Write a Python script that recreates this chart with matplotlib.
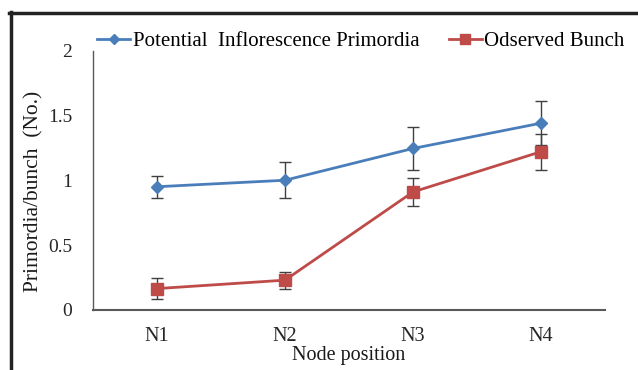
import matplotlib
matplotlib.use("Agg")
import matplotlib.pyplot as plt
from matplotlib.lines import Line2D

categories = ["N1", "N2", "N3", "N4"]
potential = [0.95, 1.00, 1.245, 1.44]
potential_err = [0.085, 0.14, 0.165, 0.17]
observed = [0.165, 0.23, 0.91, 1.22]
observed_err = [0.08, 0.065, 0.105, 0.14]
yticks = [0, 0.5, 1, 1.5, 2]
ytick_labels = ["0", "0.5", "1", "1.5", "2"]
series_names = ["Potential  Inflorescence Primordia", "Odserved Bunch"]

plt.rcParams['font.family'] = ['Liberation Serif', 'DejaVu Serif']

W, H = 638, 370
fig = plt.figure(figsize=(W / 100, H / 100), dpi=100)
ax = fig.add_axes([93 / W, 1 - 310 / H, (605 - 93) / W, (310 - 50.5) / H])

x = list(range(len(categories)))
blue = "#4A7EBB"
red = "#BE4B48"
errc = "#404040"

ax.errorbar(x, potential, yerr=potential_err, color=blue, lw=2, marker="D",
            markersize=6.5, markerfacecolor=blue, markeredgecolor=blue,
            ecolor=errc, elinewidth=1, capsize=4.5, capthick=1, zorder=3)
ax.errorbar(x, observed, yerr=observed_err, color=red, lw=2, marker="s",
            markersize=8, markerfacecolor=red, markeredgecolor=red,
            ecolor=errc, elinewidth=1, capsize=4.5, capthick=1, zorder=3)

ax.set_xlim(-0.5, len(categories) - 0.5)
ax.set_ylim(0, 2)
ax.set_xticks(x)
ax.set_xticklabels(categories, fontsize=14.5)
ax.set_yticks(yticks)
ax.set_yticklabels(ytick_labels, fontsize=14)
ax.tick_params(axis="both", length=0, colors="#262626")
ax.tick_params(axis="x", pad=12)
ax.tick_params(axis="y", pad=15)
for s in ["top", "right"]:
    ax.spines[s].set_visible(False)
for s in ["left", "bottom"]:
    ax.spines[s].set_color("#595959")
    ax.spines[s].set_linewidth(1.5)
ax.spines["left"].set_linewidth(1.0)

ax.set_ylabel("Primordia/bunch  (No.)", fontsize=15.5, color="#1a1a1a")
ax.yaxis.set_label_coords(-0.096, 0.458)
ax.set_xlabel("Node position", fontsize=14.5, labelpad=0, color="#1a1a1a")

handles = [
    Line2D([], [], color=blue, lw=2, marker="D", markersize=5.5),
    Line2D([], [], color=red, lw=2, marker="s", markersize=7),
]
leg = fig.legend(handles, series_names, loc="center left",
                 bbox_to_anchor=(97 / W, 1 - 41 / H), ncol=2,
                 frameon=False, fontsize=15, handlelength=1.6, handletextpad=0.12,
                 columnspacing=1.4, borderaxespad=0, borderpad=0)

# outer frame lines (top and left)
fig.add_artist(Line2D([9 / W, 1.0], [1 - 13 / H, 1 - 13 / H], transform=fig.transFigure,
                      color="#222222", lw=2.5))
fig.add_artist(Line2D([10.5 / W, 10.5 / W], [1 - 12 / H, 0.0], transform=fig.transFigure,
                      color="#222222", lw=2.5))

fig.savefig("out.png", dpi=100)
